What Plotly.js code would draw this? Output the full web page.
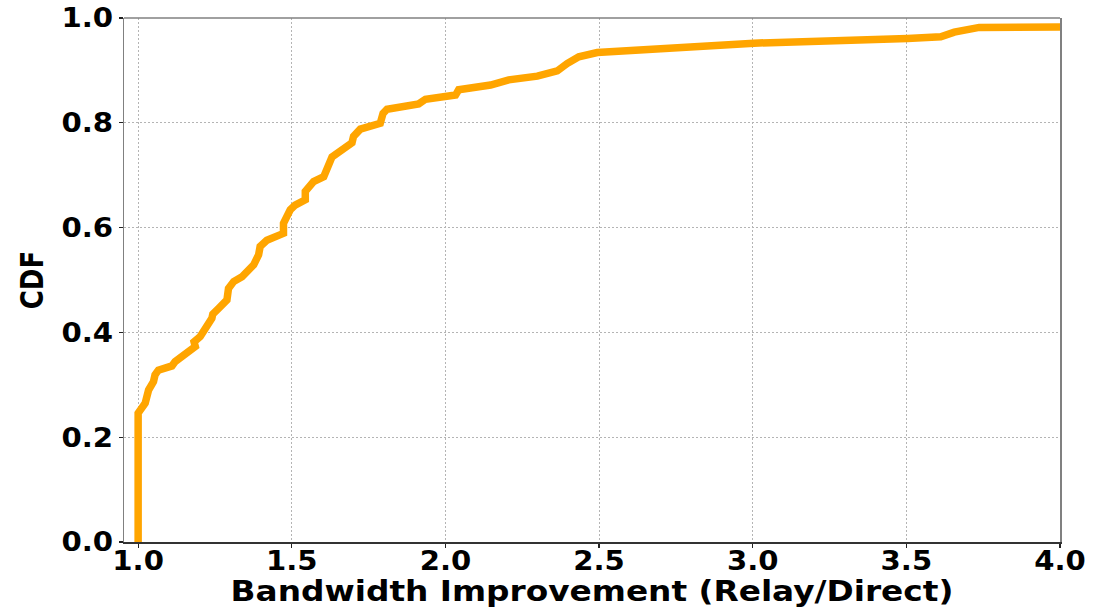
<!DOCTYPE html>
<html>
<head>
<meta charset="utf-8">
<script src="https://cdn.plot.ly/plotly-3.0.1.min.js"></script>
<style>
  html, body { margin: 0; padding: 0; background: #fff; }
  #chart { width: 1119px; height: 608px; }
</style>
</head>
<body>
<div id="chart"></div>
<script>
// Empirical CDF of bandwidth improvement (relay vs. direct path)
const improvement = [
  1.000, 1.000, 1.023, 1.028, 1.034, 1.050, 1.055, 1.066, 1.110, 1.120,
  1.148, 1.159, 1.186, 1.182, 1.202, 1.240, 1.243, 1.262, 1.289, 1.294,
  1.311, 1.338, 1.354, 1.376, 1.392, 1.397, 1.419, 1.473, 1.473, 1.495,
  1.511, 1.544, 1.544, 1.571, 1.604, 1.620, 1.631, 1.696, 1.701, 1.723,
  1.788, 1.797, 1.810, 1.913, 1.935, 2.033, 2.043, 2.147, 2.206, 2.299,
  2.364, 2.396, 2.434, 2.494, 2.603, 2.750, 3.004, 3.504, 3.612, 3.656,
  3.737, 4.003
];
const cdf = [
  0.000, 0.246, 0.265, 0.277, 0.290, 0.306, 0.319, 0.328, 0.336, 0.344,
  0.357, 0.365, 0.373, 0.382, 0.392, 0.427, 0.435, 0.446, 0.462, 0.484,
  0.497, 0.506, 0.516, 0.529, 0.548, 0.564, 0.576, 0.589, 0.608, 0.634,
  0.643, 0.653, 0.669, 0.688, 0.697, 0.716, 0.735, 0.762, 0.774, 0.788,
  0.799, 0.818, 0.826, 0.836, 0.845, 0.853, 0.863, 0.872, 0.882, 0.889,
  0.899, 0.913, 0.926, 0.934, 0.938, 0.945, 0.952, 0.961, 0.964, 0.973,
  0.982, 0.983
];
const xTicks = [1.0, 1.5, 2.0, 2.5, 3.0, 3.5, 4.0];
const yTicks = [0.0, 0.2, 0.4, 0.6, 0.8, 1.0];
const xTitle = 'Bandwidth Improvement (Relay/Direct)';
const yTitle = 'CDF';

const fontFamily = '"DejaVu Sans", "Liberation Sans", sans-serif';

const trace = {
  x: improvement,
  y: cdf,
  type: 'scatter',
  mode: 'lines',
  line: { color: '#FFA500', width: 7.5, shape: 'linear' },
  hoverinfo: 'x+y'
};

const axisCommon = {
  showline: true,
  linewidth: 1.5,
  showgrid: true,
  gridcolor: '#b4b4b4',
  gridwidth: 1,
  griddash: '2px,2px',
  zeroline: false,
  ticks: 'outside',
  ticklen: 4,
  tickwidth: 1.2,
  tickcolor: '#222'
};

const layout = {
  width: 1119,
  height: 608,
  margin: { l: 124, r: 59, t: 18, b: 66 },
  paper_bgcolor: '#fff',
  plot_bgcolor: '#fff',
  showlegend: false,
  xaxis: Object.assign({}, axisCommon, {
    range: [0.954, 4.0],
    linecolor: '#333',
    mirror: false,
    tickvals: xTicks,
    ticktext: xTicks.map(v => v.toFixed(1)),
    tickfont: { family: fontFamily, size: 26, color: '#000', weight: 'bold' },
    ticklabelstandoff: -9,
    title: {
      text: xTitle,
      font: { family: fontFamily, size: 28, color: '#000', weight: 'bold' },
      standoff: 3
    }
  }),
  yaxis: Object.assign({}, axisCommon, {
    range: [0, 1.0],
    linecolor: '#808080',
    mirror: true,
    tickvals: yTicks,
    ticktext: yTicks.map(v => v.toFixed(1)),
    tickfont: { family: fontFamily, size: 27, color: '#000', weight: 'bold' },
    ticklabelstandoff: 0,
    title: {
      text: yTitle,
      font: { family: fontFamily, size: 26, color: '#000', weight: 'bold' },
      standoff: 14
    }
  }),
  shapes: [{
    // top frame edge
    type: 'line', xref: 'paper', yref: 'paper',
    x0: 0, x1: 1, y0: 1, y1: 1,
    line: { color: '#808080', width: 1.5 }
  }]
};

// Widen bold labels horizontally about their text anchor.
function widenLocal(selector, sx) {
  document.querySelectorAll(selector).forEach(t => {
    const x = parseFloat(t.getAttribute('x')) || 0;
    const prev = t.getAttribute('transform') || '';
    t.setAttribute('transform',
      prev + ' translate(' + x + ',0) scale(' + sx + ',1) translate(' + (-x) + ',0)');
  });
}
function widenScreen(selector, sx) {
  document.querySelectorAll(selector).forEach(t => {
    const x = parseFloat(t.getAttribute('x')) || 0;
    const prev = t.getAttribute('transform') || '';
    t.setAttribute('transform',
      'translate(' + x + ',0) scale(' + sx + ',1) translate(' + (-x) + ',0) ' + prev);
  });
}

Plotly.newPlot('chart', [trace], layout, { staticPlot: true, displayModeBar: false })
  .then(() => {
    widenLocal('.xtick text', 1.12);
    widenLocal('.ytick text', 1.08);
    widenLocal('.g-xtitle text', 1.17);
    widenScreen('.g-ytitle text', 1.2);
  });
</script>
</body>
</html>
